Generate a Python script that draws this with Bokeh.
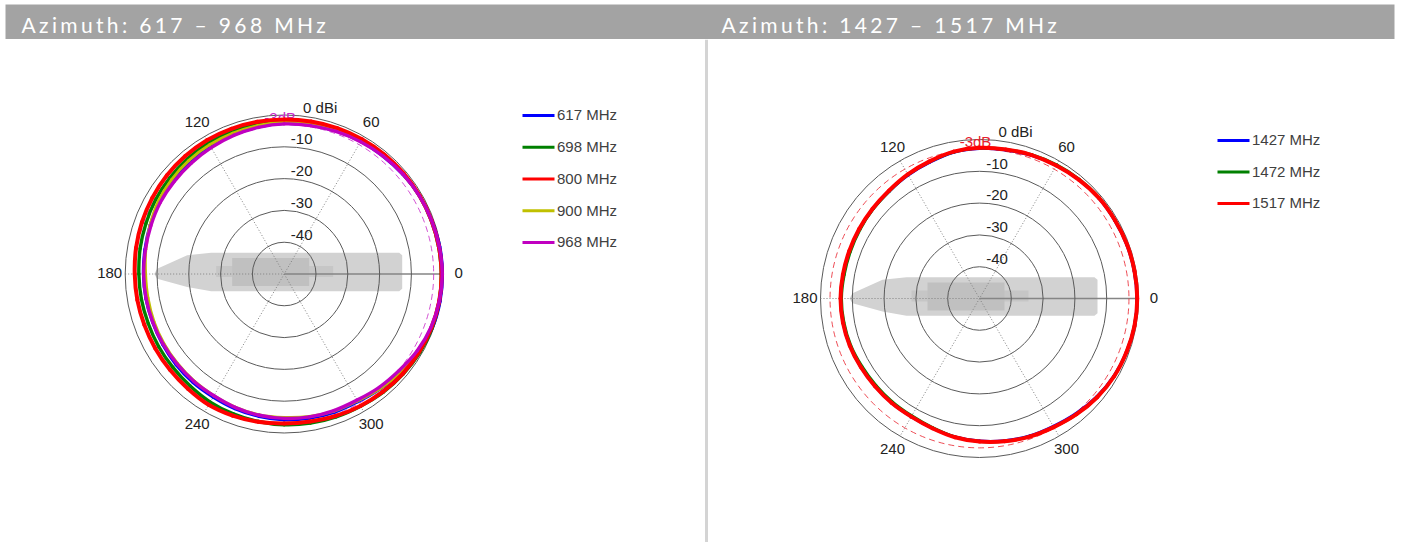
import numpy as np
from bokeh.plotting import figure
from bokeh.layouts import column
from bokeh.models import Range1d
from bokeh.core.properties import value
from bokeh.embed import file_html
from bokeh.resources import INLINE

angles = list(range(0, 360, 10))

freq_left = ["617 MHz", "698 MHz", "800 MHz", "900 MHz", "968 MHz"]
freq_right = ["1427 MHz", "1472 MHz", "1517 MHz"]

# gain in dBi, one value every 10 degrees from 0 to 350
blue_617 = [-0.2,-0.3,-0.6,-0.8,-1.3,-1.7,-1.9,-2.2,-2.5,-2.7,-3.1,-3.4,-3.6,-4.0,-4.5,-4.7,-5.1,-5.5,-5.7,-5.8,-5.9,-5.8,-5.6,-5.4,-5.3,-4.9,-4.5,-4.1,-3.9,-3.7,-3.6,-2.9,-1.9,-1.1,-0.4,-0.2]
green_698 = [-0.6,-0.7,-0.8,-0.9,-1.1,-1.3,-1.4,-1.6,-1.7,-1.9,-2.1,-2.2,-2.4,-2.7,-3.0,-3.3,-3.7,-4.0,-4.3,-4.4,-4.5,-4.4,-4.3,-4.0,-3.5,-3.2,-2.9,-2.6,-2.4,-2.2,-2.0,-1.5,-1.1,-0.7,-0.5,-0.5]
red_800 = [-0.5,-0.6,-0.7,-0.8,-0.9,-1.0,-1.1,-1.2,-1.3,-1.4,-1.4,-1.4,-1.4,-1.6,-1.8,-2.1,-2.4,-2.7,-3.0,-3.1,-3.2,-3.2,-3.1,-2.9,-2.5,-2.6,-2.8,-3.0,-2.9,-2.5,-2.1,-1.7,-1.3,-1.0,-0.7,-0.5]
olive_900 = [-0.5,-0.6,-0.7,-0.8,-1.1,-1.4,-1.6,-1.8,-2.0,-2.2,-2.6,-2.9,-3.1,-3.4,-3.8,-4.3,-5.1,-5.8,-6.4,-6.5,-6.4,-6.3,-6.2,-6.0,-5.8,-5.4,-5.0,-4.9,-4.5,-4.1,-3.9,-3.0,-2.1,-1.3,-0.8,-0.6]
magenta_968 = [-0.3,-0.5,-0.7,-0.9,-1.2,-1.6,-2.0,-2.3,-2.6,-2.8,-3.2,-3.6,-4.1,-4.5,-4.8,-5.0,-5.4,-5.7,-5.8,-5.9,-6.0,-6.0,-6.0,-5.9,-5.8,-5.3,-4.9,-4.6,-4.4,-4.3,-4.2,-3.5,-2.8,-1.7,-0.9,-0.5]

blue_1427 = [-0.5,-0.6,-0.7,-0.9,-1.0,-1.3,-1.7,-2.1,-2.6,-2.8,-3.3,-4.4,-5.2,-5.9,-6.2,-6.4,-6.5,-6.5,-6.4,-6.4,-6.6,-6.9,-7.1,-7.1,-7.1,-6.6,-5.8,-5.2,-4.6,-4.0,-3.6,-2.8,-1.9,-1.2,-0.8,-0.5]
green_1472 = [-0.4,-0.5,-0.6,-0.8,-0.8,-1.1,-1.5,-1.9,-2.4,-2.7,-3.2,-4.2,-5.0,-5.9,-6.3,-6.6,-6.8,-6.8,-6.6,-6.7,-6.9,-7.3,-7.5,-7.5,-7.4,-6.8,-5.8,-5.0,-4.4,-3.8,-3.3,-2.5,-1.7,-1.1,-0.8,-0.5]
red_1517 = [-0.4,-0.5,-0.6,-0.8,-0.9,-1.3,-1.7,-2.0,-2.4,-2.6,-3.1,-4.1,-4.9,-5.7,-6.1,-6.3,-6.4,-6.4,-6.3,-6.4,-6.6,-6.9,-7.1,-7.1,-7.1,-6.6,-5.7,-5.0,-4.4,-3.8,-3.3,-2.5,-1.7,-1.1,-0.8,-0.5]

ring_db = [0, -10, -20, -30, -40]
ring_labels = ["-10", "-20", "-30", "-40"]
spoke_labels = ["60", "120", "180", "0", "240", "300"]

W, H, BAN = 1408, 542, 39
R0, PX_PER_DB = 159.0, 3.18
LEFT = dict(cx=283.7, cy=273.5, lx=522, ly=115, dy=31.75)
RIGHT = dict(cx=979.0, cy=298.0, lx=1217, ly=140, dy=31.5)

FONT = value("Liberation Sans")
TXT = "#222222"

p = figure(width=W, height=H - BAN, x_range=Range1d(0, W), y_range=Range1d(H, BAN),
           output_backend="svg", toolbar_location=None, min_border=0,
           x_axis_type=None, y_axis_type=None, background_fill_color="white",
           border_fill_color="white")
p.grid.visible = False
p.outline_line_color = None

def radius(db):
    return R0 + np.asarray(db, dtype=float) * PX_PER_DB

def label(x, y, s, color=TXT, size="15px"):
    p.text([x], [y - 0.7], text=[s], text_color=color, text_font=FONT, text_font_size=size,
           text_align="center", text_baseline="middle")

def ship(cx, cy):
    px = [-130, -127, -97, -73, 115, 118, 118, 115, -73, -97, -127]
    py = [0, -5.3, -18.7, -21.3, -21.3, -18.7, 14.7, 17.3, 17.3, 13, 4.7]
    p.patch(np.add(px, cx), np.add(py, cy), fill_color="#d2d2d2", line_color=None)
    p.quad(left=[cx - 68], right=[cx + 49], top=[cy - 8], bottom=[cy + 3], fill_color="#c6c6c6", line_color=None)
    p.quad(left=[cx - 52], right=[cx + 25], top=[cy - 16], bottom=[cy + 12], fill_color="#c0c0c0", line_color=None)

def smooth_curve(cx, cy, vals, col, w):
    # a closed smooth curve through the read values, one Bezier segment between neighbours
    th = np.radians(angles)
    rr = radius(vals)
    x = cx + rr * np.cos(th)
    y = cy - rr * np.sin(th)
    xn, yn = np.roll(x, -1), np.roll(y, -1)
    xp, yp = np.roll(x, 1), np.roll(y, 1)
    xnn, ynn = np.roll(x, -2), np.roll(y, -2)
    p.bezier(x0=x, y0=y, x1=xn, y1=yn,
             cx0=x + (xn - xp) / 6, cy0=y + (yn - yp) / 6,
             cx1=xn - (xnn - x) / 6, cy1=yn - (ynn - y) / 6,
             line_color=col, line_width=w, line_cap="round")

def polar(cfg, series, colors, dash_color, widths):
    cx, cy = cfg["cx"], cfg["cy"]
    ship(cx, cy)
    for a in (60, 120):
        t = np.radians(a)
        p.line([cx + R0 * np.cos(t), cx - R0 * np.cos(t)], [cy - R0 * np.sin(t), cy + R0 * np.sin(t)],
               line_color="#808080", line_width=1, line_dash="1 2")
    p.line([cx - R0, cx], [cy, cy], line_color="#808080", line_width=1, line_dash="1 2")
    p.line([cx, cx + R0], [cy, cy], line_color="#858585", line_width=1.3)
    for d in ring_db:
        p.circle([cx], [cy], radius=float(radius(d)), fill_color=None, line_color="#5a5a5a", line_width=1)
    for s, d in zip(ring_labels, ring_db[1:]):
        label(cx + 17.5, cy - radius(d) - 7, s)
    label(cx + 36, cy - 166, "0 dBi")
    label(cx - 4, cy - 156, "-3dB", color=dash_color)
    off = {"60": (87, -151), "120": (-87, -151), "180": (-174.5, 0), "0": (174.5, 0), "240": (-87, 151), "300": (87, 151)}
    for s in spoke_labels:
        label(cx + off[s][0], cy + off[s][1], s)
    p.circle([cx], [cy], radius=float(radius(-3)), fill_color=None, line_color=dash_color,
             line_width=1, line_dash="6 4", line_alpha=0.8)
    for vals, col, w in zip(series, colors, widths):
        smooth_curve(cx, cy, vals, col, w)

def legend(cfg, names, colors):
    for i, (n, col) in enumerate(zip(names, colors)):
        y = cfg["ly"] + i * cfg["dy"]
        p.line([cfg["lx"], cfg["lx"] + 32], [y, y], line_color=col, line_width=3)
        p.text([cfg["lx"] + 34.5], [y - 0.7], text=[n], text_color="#404040", text_font=FONT,
               text_font_size="15px", text_align="left", text_baseline="middle")

p.quad(left=[704.5], right=[707.5], top=[BAN], bottom=[H], fill_color="#d4d4d4", line_color=None)

polar(LEFT, [blue_617, green_698, olive_900, red_800, magenta_968],
      ["#0000ff", "#008000", "#c0c000", "#ff0000", "#c000c0"],
      "#c828c8", [3, 3.4, 3, 4, 3.4])
polar(RIGHT, [blue_1427, green_1472, red_1517],
      ["#0000ff", "#008000", "#ff0000"],
      "#e8202c", [3, 3, 4])
legend(LEFT, freq_left, ["#0000ff", "#008000", "#ff0000", "#c0c000", "#c000c0"])
legend(RIGHT, freq_right, ["#0000ff", "#008000", "#ff0000"])

banner = figure(width=W, height=BAN, x_range=Range1d(0, W), y_range=Range1d(BAN, 0),
                output_backend="svg", toolbar_location=None, min_border=0,
                x_axis_type=None, y_axis_type=None, border_fill_color="white",
                styles={"letter-spacing": "3.35px"})
banner.grid.visible = False
banner.outline_line_color = None
banner.quad(left=[5], right=[1394], top=[4], bottom=[BAN], fill_color="#a3a3a3", line_color=None)
banner.text([21, 721], [24, 24], text=["Azimuth: 617 – 968 MHz", "Azimuth: 1427 – 1517 MHz"],
            text_color="white", text_font=value("Lato"), text_font_size="21px",
            text_align="left", text_baseline="middle")

page = column(banner, p, spacing=0)
open("out.html", "w").write(file_html(page, INLINE))
